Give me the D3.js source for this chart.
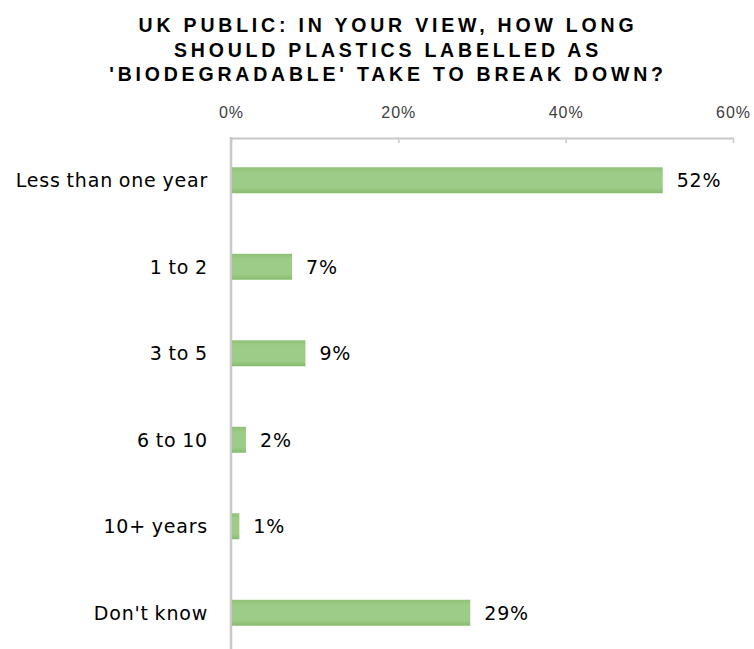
<!DOCTYPE html>
<html>
<head>
<meta charset="utf-8">
<script src="https://cdn.jsdelivr.net/npm/d3@7"></script>
<style>
  body { margin: 0; background: #fff; }
  text { font-family: "Liberation Sans", Arial, sans-serif; }
</style>
</head>
<body>
<div id="chart"></div>
<script>
const titleLines = [
  "UK PUBLIC: IN YOUR VIEW, HOW LONG",
  "SHOULD PLASTICS LABELLED AS",
  "'BIODEGRADABLE' TAKE TO BREAK DOWN?"
];
const categories = ["Less than one year", "1 to 2", "3 to 5", "6 to 10", "10+ years", "Don't know"];
// bar lengths; the labels show them rounded
const values = [51.6, 7.3, 8.9, 1.8, 1.0, 28.6];
const tickValues = [0, 20, 40, 60];

const width = 754, height = 649;
const axisTop = 138;

const svg = d3.select("#chart").append("svg")
  .attr("width", width)
  .attr("height", height);

// title
svg.append("g")
  .selectAll("text")
  .data(titleLines)
  .join("text")
  .attr("x", 388)
  .attr("y", (d, i) => 32.3 + i * 24.5)
  .attr("text-anchor", "middle")
  .style("font-size", "19.5px")
  .style("font-weight", "bold")
  .style("letter-spacing", "3.8px")
  .attr("fill", "#000")
  .text(d => d);

const x = d3.scaleLinear()
  .domain([0, 60])
  .range([231, 733]);

const y = d3.scaleBand()
  .domain(categories)
  .range([137, 656])
  .paddingInner(0.7)
  .paddingOuter(0.35);

// top axis
const xAxis = svg.append("g")
  .attr("transform", `translate(0,${axisTop})`)
  .call(d3.axisTop(x).tickValues(tickValues).tickFormat(d => d + "%").tickSizeInner(-5).tickSizeOuter(0).tickPadding(20));
xAxis.select(".domain").attr("stroke", "#c8c8c8").attr("stroke-width", 2);
xAxis.selectAll(".tick line").attr("stroke", "#c8c8c8").attr("stroke-width", 1.5);
xAxis.selectAll(".tick text")
  .attr("fill", "#404040")
  .style("font-size", "16px")
  .style("letter-spacing", "1px");

// left axis line
svg.append("line")
  .attr("x1", x(0)).attr("x2", x(0))
  .attr("y1", axisTop - 1).attr("y2", height)
  .attr("stroke", "#c8c8c8")
  .attr("stroke-width", 2.5);

const defs = svg.append("defs");
const grad = defs.append("linearGradient")
  .attr("id", "barGrad")
  .attr("x1", 0).attr("y1", 0).attr("x2", 0).attr("y2", 1);
grad.append("stop").attr("offset", "0%").attr("stop-color", "#8fc174");
grad.append("stop").attr("offset", "20%").attr("stop-color", "#9dcb88");
grad.append("stop").attr("offset", "80%").attr("stop-color", "#9dcb88");
grad.append("stop").attr("offset", "100%").attr("stop-color", "#86bb6b");

const rows = categories.map((c, i) => ({ category: c, value: values[i] }));

svg.append("g")
  .selectAll("rect")
  .data(rows)
  .join("rect")
  .attr("x", x(0) + 1)
  .attr("y", d => y(d.category))
  .attr("width", d => x(d.value) - x(0) - 1)
  .attr("height", y.bandwidth())
  .attr("fill", "url(#barGrad)");

// category labels
svg.append("g")
  .selectAll("text")
  .data(rows)
  .join("text")
  .attr("x", 208)
  .attr("y", d => y(d.category) + y.bandwidth() / 2)
  .attr("dy", "0.37em")
  .attr("text-anchor", "end")
  .style("font-family", "'DejaVu Sans', sans-serif")
  .style("font-size", "19px")
  .style("letter-spacing", "0.8px")
  .style("word-spacing", "-1px")
  .attr("fill", "#000")
  .text(d => d.category);

// value labels
svg.append("g")
  .selectAll("text")
  .data(rows)
  .join("text")
  .attr("x", d => x(d.value) + 14)
  .attr("y", d => y(d.category) + y.bandwidth() / 2)
  .attr("dy", "0.37em")
  .style("font-family", "'DejaVu Sans', sans-serif")
  .style("font-size", "19px")
  .style("letter-spacing", "0.8px")
  .attr("fill", "#000")
  .text(d => d3.format(".0f")(d.value) + "%");
</script>
</body>
</html>
